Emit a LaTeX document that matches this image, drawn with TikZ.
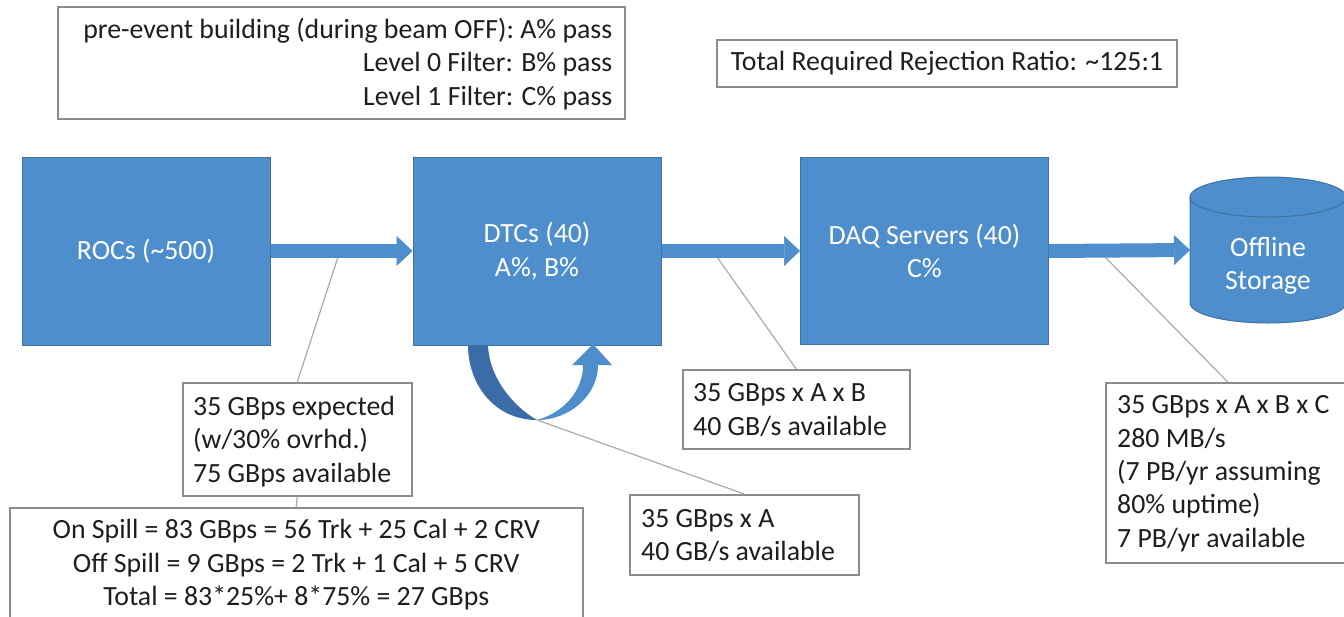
\documentclass[tikz,border=0pt]{standalone}
\usepackage{fontspec}
\setmainfont{Carlito}
\usetikzlibrary{arrows.meta,calc}
\definecolor{boxblue}{RGB}{79,142,204}
\definecolor{boxedge}{RGB}{66,114,160}
\definecolor{darkblue}{RGB}{58,108,168}
\definecolor{framegray}{RGB}{140,140,140}
\definecolor{leadgray}{RGB}{170,170,170}
\definecolor{inkblack}{RGB}{30,30,30}
\begin{document}
\begin{tikzpicture}[x=1pt,y=-1pt,
  every node/.style={font=\fontsize{27.8}{33.4}\selectfont},
  bluebox/.style={draw=boxedge, line width=1pt, fill=boxblue, text=white, align=center, inner sep=0pt},
  framebox/.style={draw=framegray, line width=1.5pt, fill=white, inner sep=0pt},
  txt/.style={text=inkblack, inner sep=0pt},
  flow/.style={draw=boxblue, line width=14pt, -{Triangle[length=16pt,width=30pt,line width=0.5pt]}},
  lead/.style={draw=leadgray, line width=1.2pt}]
\useasboundingbox (0,0) rectangle (1344,616);
\clip (0,0) rectangle (1344,616);

% legend boxes
\node[framebox, minimum width=567pt, minimum height=112pt, anchor=north west] (filters) at (57,6) {};
\node[txt, anchor=east, align=right] (filtertxt) at ($(filters.east)+(-13,1)$) {pre-event building (during beam OFF): A\% pass\\Level 0 Filter: B\% pass\\Level 1 Filter: C\% pass};
\node[framebox, text=inkblack, minimum width=460pt, minimum height=47pt] (ratio) at (947,63.5) {Total Required Rejection Ratio: \textasciitilde125:1};

% main blocks
\node[bluebox, minimum width=248pt, minimum height=188pt] (roc) at (146,251) {ROCs (\textasciitilde500)};
\node[bluebox, minimum width=248pt, minimum height=188pt] (dtc) at (537,251) {DTCs (40)\\A\%, B\%};
\node[bluebox, minimum width=248pt, minimum height=187pt] (daq) at (924.5,251) {DAQ Servers (40)\\C\%};

% storage cylinder
\fill[boxblue] (1190,197) -- (1190,303) arc[start angle=180, end angle=360, x radius=78pt, y radius=20pt] -- (1346,197) arc[start angle=0, end angle=180, x radius=78pt, y radius=20pt] -- cycle;
\draw[boxedge, line width=1pt] (1190,197) -- (1190,303) arc[start angle=180, end angle=360, x radius=78pt, y radius=20pt] -- (1346,197);
\draw[boxedge, line width=1pt] (1268,197) ellipse[x radius=78pt, y radius=20pt];
\node[txt, text=white, align=center] (stor) at (1268,266) {Offline\\Storage};
\coordinate (storw) at (1190,250);

% lead anchor points
\coordinate (a1) at (338,257);
\coordinate (a2) at (717,257);
\coordinate (a3) at (1105,257);
\coordinate (ubot) at (537,420);

% callout boxes
\node[framebox, minimum width=229pt, minimum height=113pt, anchor=north west] (ca) at (182,382) {};
\node[framebox, text=inkblack, align=center, minimum width=573pt, minimum height=114pt, anchor=north west] (cb) at (9,507) {On Spill = 83 GBps = 56 Trk + 25 Cal + 2 CRV\\Off Spill = 9 GBps = 2 Trk + 1 Cal + 5 CRV\\Total = 83*25\%+ 8*75\% = 27 GBps};
\node[framebox, minimum width=229pt, minimum height=80pt, anchor=north west] (cc) at (629,494) {};
\node[framebox, minimum width=227pt, minimum height=79pt, anchor=north west] (cd) at (682,369) {};
\node[framebox, minimum width=244pt, minimum height=180pt, anchor=north west] (ce) at (1105,382) {};

% callout leads
\draw[lead] (a1) -- (ca.north);
\draw[lead] (ca.south) -- (cb.north);
\draw[lead] (ubot) -- (cc.north);
\draw[lead] (a2) -- (cd.north);
\draw[lead] (a3) -- (ce.north);

\node[txt, anchor=west, align=left] (catxt) at ($(ca.west)+(11,2)$) {35 GBps expected\\(w/30\% ovrhd.)\\75 GBps available};
\node[txt, anchor=west, align=left] (cctxt) at ($(cc.west)+(12,1)$) {35 GBps x A\\40 GB/s available};
\node[txt, anchor=west, align=left] (cdtxt) at ($(cd.west)+(11,1)$) {35 GBps x A x B\\40 GB/s available};
\node[txt, anchor=west, align=left] (cetxt) at ($(ce.west)+(12,1)$) {35 GBps x A x B x C\\280 MB/s\\(7 PB/yr assuming\\80\% uptime)\\7 PB/yr available};

% flow arrows
\draw[flow] (roc.east) -- (dtc.west);
\draw[flow] (dtc.east) -- (daq.west);
\draw[flow] (daq.east) -- (storw);

% recirculating U-turn arrow under the DTCs
\fill[darkblue] (468,345) .. controls (468,385) and (495,420) .. (537,420) .. controls (514,407) and (489,378) .. (488,345) -- cycle;
\fill[boxblue] (537,420) .. controls (570,420) and (598,395) .. (598,365) -- (612,365) -- (593,344) -- (572,365) -- (583,365) .. controls (583,390) and (565,412) .. (537,420) -- cycle;
\end{tikzpicture}
\end{document}
